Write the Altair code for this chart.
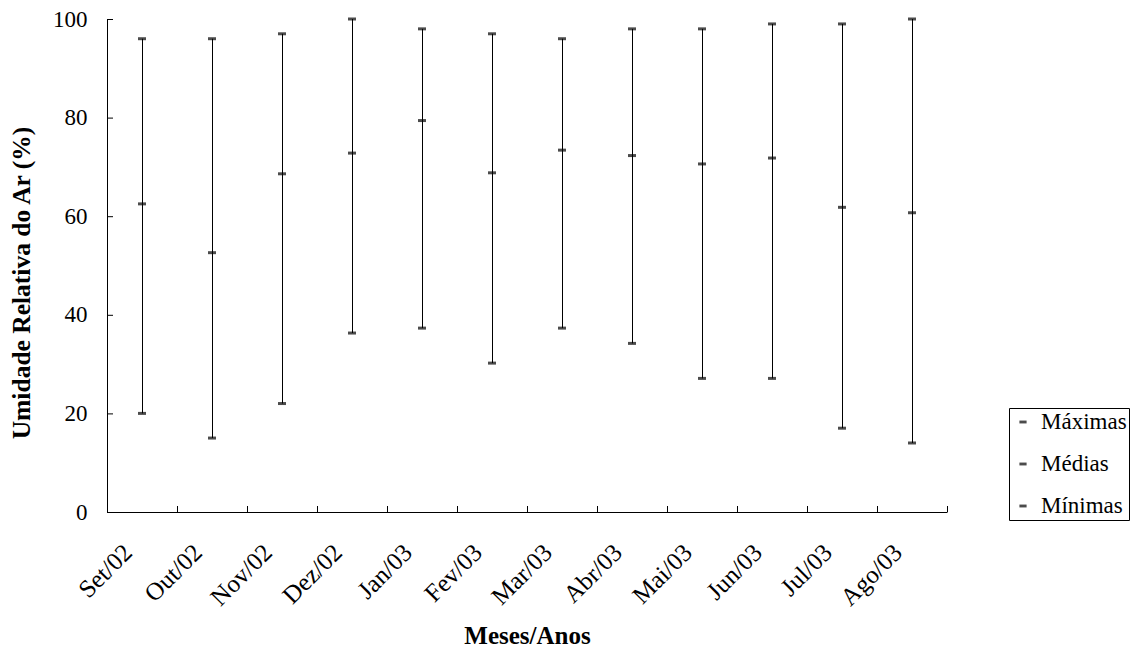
import altair as alt
import pandas as pd

meses = ["Set/02", "Out/02", "Nov/02", "Dez/02", "Jan/03", "Fev/03",
         "Mar/03", "Abr/03", "Mai/03", "Jun/03", "Jul/03", "Ago/03"]
maximas = [96, 96, 97, 100, 98, 97, 96, 98, 98, 99, 99, 100]
medias = [62.5, 52.6, 68.6, 72.8, 79.4, 68.8, 73.4, 72.3, 70.6, 71.8, 61.8, 60.7]
minimas = [20.0, 15.0, 22.0, 36.3, 37.3, 30.2, 37.3, 34.2, 27.1, 27.1, 17.0, 14.0]
series = ["Máximas", "Médias", "Mínimas"]
y_ticks = [0, 20, 40, 60, 80, 100]

W, H = 840, 493
FONT = "Liberation Serif"

wide = pd.DataFrame({"mes": meses, "max": maximas, "med": medias, "min": minimas})
long = pd.DataFrame({
    "mes": meses * 3,
    "serie": [s for s in series for _ in meses],
    "valor": maximas + medias + minimas,
})
yt = pd.DataFrame({"v": y_ticks})

xscale = alt.Scale(domain=meses, paddingInner=0, paddingOuter=0)
yscale = alt.Scale(domain=[0, 100], nice=False, zero=True)

x_axis = alt.Axis(
    title="Meses/Anos", labelAngle=315, labelAlign="right", labelBaseline="middle",
    labelPadding=36, labelOffset=-14, ticks=False, tickSize=0,
    domainColor="black", domainWidth=1, grid=False,
    labelFont=FONT, labelFontSize=25, labelColor="black",
    titleFont=FONT, titleFontSize=25, titleFontWeight="bold", titleColor="black",
    titleY=131, titleBaseline="alphabetic", labelOverlap=False,
)
y_axis = alt.Axis(
    title="Umidade Relativa do Ar (%)", values=y_ticks, ticks=False, tickSize=0,
    labelPadding=20, domainColor="black", domainWidth=1, grid=False,
    labelFont=FONT, labelFontSize=23, labelColor="black",
    titleFont=FONT, titleFontSize=25.5, titleFontWeight="bold", titleColor="black",
    titleAngle=270, titleX=-77.5, titleY=263.5, titleBaseline="alphabetic",
    titleAlign="center",
)

X = alt.X("mes:N", scale=xscale, axis=x_axis, sort=meses)

rules = alt.Chart(wide).mark_rule(color="black", strokeWidth=1, xOffset=0.5).encode(
    x=X,
    y=alt.Y("min:Q", scale=yscale, axis=y_axis),
    y2="max:Q",
)

ticks = alt.Chart(long).mark_tick(orient="horizontal", size=8, thickness=3).encode(
    x=X,
    y=alt.Y("valor:Q", scale=yscale, axis=y_axis),
    color=alt.Color(
        "serie:N",
        scale=alt.Scale(domain=series, range=["black", "black", "black"]),
        legend=alt.Legend(
            title=None, orient="none", legendX=902, legendY=389,
            strokeColor="black", fillColor="white", padding=2, cornerRadius=0,
            symbolType="M-0.3,-0.12H0.3V0.12H-0.3Z", symbolSize=576,
            symbolStrokeWidth=0, rowPadding=18, labelOffset=6,
            labelFont=FONT, labelFontSize=23, labelColor="black",
        ),
    ),
)

xticks = alt.Chart(wide).mark_rule(color="black", strokeWidth=1, xOffset=0.5).encode(
    x=alt.X("mes:N", scale=xscale, axis=x_axis, sort=meses, bandPosition=0),
    y=alt.value(H),
    y2=alt.value(H - 6),
)
xtick_last = alt.Chart(wide).transform_filter(
    alt.datum.mes == meses[-1]
).mark_rule(color="black", strokeWidth=1, xOffset=0.5).encode(
    x=alt.X("mes:N", scale=xscale, axis=x_axis, sort=meses, bandPosition=1),
    y=alt.value(H),
    y2=alt.value(H - 6),
)
yticks = alt.Chart(yt).mark_rule(color="black", strokeWidth=1, yOffset=0.5).encode(
    y=alt.Y("v:Q", scale=yscale, axis=y_axis),
    x=alt.value(0),
    x2=alt.value(6),
)

chart = alt.layer(rules, xticks, xtick_last, yticks, ticks).properties(
    width=W, height=H,
    autosize=alt.AutoSizeParams(type="none"),
    padding={"left": 99, "top": 11, "right": 187, "bottom": 137},
    background="white",
).configure_view(stroke=None)

chart.save("out.html", embed_options={"renderer": "svg", "actions": False})
